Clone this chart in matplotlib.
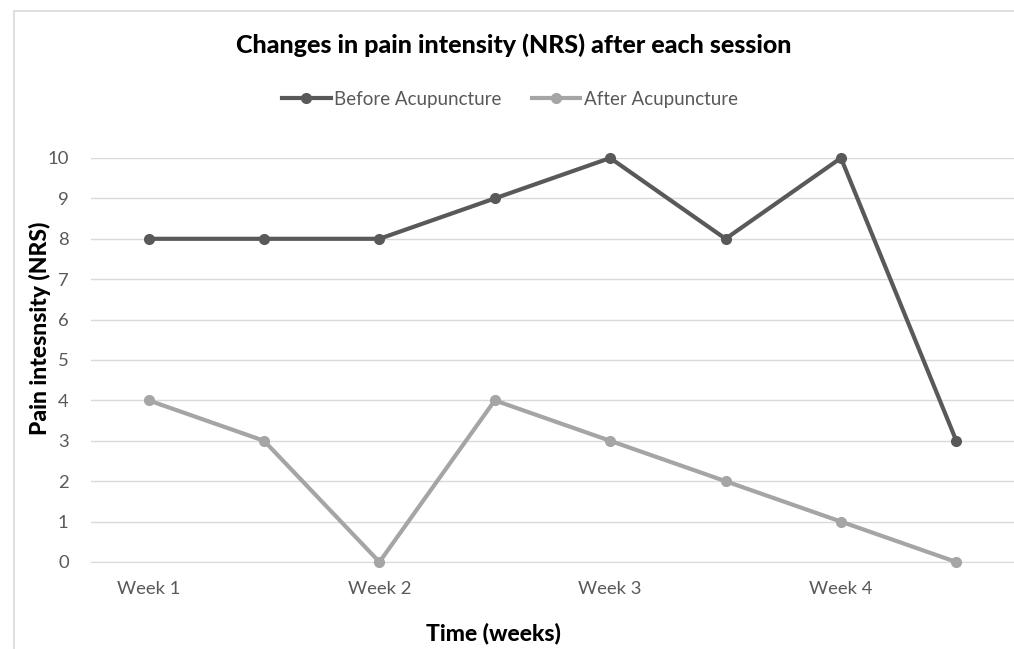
import numpy as np
import matplotlib.pyplot as plt
import matplotlib.patches as patches

plt.rcParams['font.family'] = ['Lato', 'DejaVu Sans']

sessions = np.arange(8)
tick_labels = ["Week 1", "", "Week 2", "", "Week 3", "", "Week 4", ""]
before = [8, 8, 8, 9, 10, 8, 10, 3]
after = [4, 3, 0, 4, 3, 2, 1, 0]

fig = plt.figure(figsize=(10.14, 6.49), dpi=100)
ax = fig.add_axes([91 / 1014, 1 - 562 / 649, 1 - 91 / 1014, (562 - 158) / 649])

# chart border
fig.patches.append(patches.Rectangle((14 / 1014, -0.1), 1.1, 1 - 11 / 649 + 0.1,
                                     transform=fig.transFigure, fill=False,
                                     edgecolor="#d9d9d9", lw=1.2))

l1, = ax.plot(sessions, before, color="#595959", lw=3, marker="o", ms=7,
              label="Before Acupuncture", zorder=3, clip_on=False)
l2, = ax.plot(sessions, after, color="#a5a5a5", lw=3, marker="o", ms=7,
              label="After Acupuncture", zorder=3, clip_on=False)

ax.set_xlim(-0.5, 7.5)
ax.set_ylim(0, 10)
ax.set_yticks(np.arange(0, 11, 1))
ax.set_xticks(sessions)
ax.set_xticklabels(tick_labels)
ax.grid(axis="y", color="#d9d9d9", lw=1)
ax.set_axisbelow(True)
ax.tick_params(length=0, labelsize=13.3, colors="#595959", pad=14)
ax.tick_params(axis="y", pad=16)
for s in ["top", "right", "left"]:
    ax.spines[s].set_visible(False)
ax.spines["bottom"].set_color("#d9d9d9")

fig.text(514 / 1014, 1 - 45 / 649, "Changes in pain intensity (NRS) after each session",
         ha="center", va="center", fontsize=18, fontweight="black")
fig.text(493 / 1014, 1 - 633 / 649, "Time (weeks)", ha="center", va="center",
         fontsize=16.5, fontweight="black")
fig.text(40 / 1014, 1 - 328 / 649, "Pain intesnsity (NRS)", ha="center", va="center",
         rotation=90, fontsize=16.5, fontweight="black")

fig.legend(handles=[l1, l2], loc="center", bbox_to_anchor=(510 / 1014, 1 - 99 / 649),
           ncol=2, frameon=False, fontsize=13.5, labelcolor="#595959",
           handlelength=2.6, columnspacing=1.6, handletextpad=0.2)

fig.savefig("out.png", dpi=100)
